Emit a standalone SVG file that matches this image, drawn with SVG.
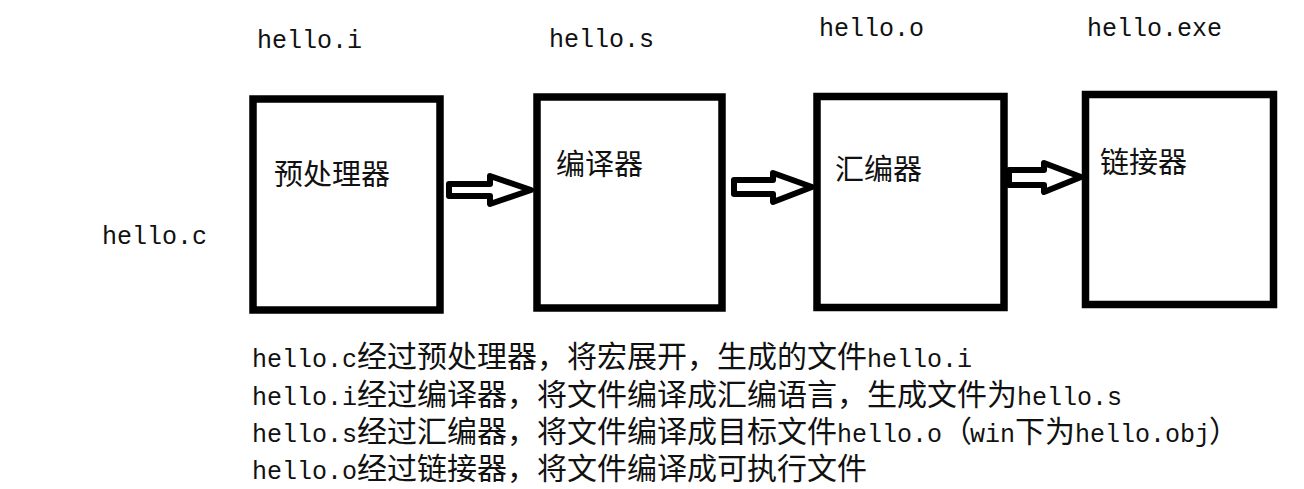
<svg xmlns="http://www.w3.org/2000/svg" width="1304" height="489" viewBox="0 0 1304 489">
<style>
.box{fill:#fff;stroke:#000;stroke-width:7.5}
.arr{fill:#fff;stroke:#000;stroke-width:6;stroke-linejoin:round}
.lat{font-family:"Liberation Mono",monospace;font-size:25px;fill:#111}
.cjk{font-family:"Noto Sans CJK SC",sans-serif;font-size:30px;fill:#111}
.lbl{font-family:"Noto Sans CJK SC",sans-serif;font-size:29px;fill:#111}
</style>
<rect width="1304" height="489" fill="#fff"/>
<g id="connectors">
<polygon class="arr" points="449,184 490,184 490,176 531,190 490,204 490,196 449,196"/>
<polygon class="arr" points="734,180 773,180 773,173 812,187 773,202 773,194 734,194"/>
<polygon class="arr" points="1009,170 1044,170 1044,163 1081,177 1044,192 1044,185 1009,185"/>
</g>
<g id="node-preprocessor">
<rect class="box" x="253" y="99" width="187" height="211"/>
<text class="lbl" x="274" y="185">预处理器</text>
</g>
<g id="node-compiler">
<rect class="box" x="537" y="97" width="185" height="211"/>
<text class="lbl" x="556" y="175">编译器</text>
</g>
<g id="node-assembler">
<rect class="box" x="817" y="96.5" width="187" height="211"/>
<text class="lbl" x="835" y="180">汇编器</text>
</g>
<g id="node-linker">
<rect class="box" x="1085.5" y="94.5" width="188" height="210"/>
<text class="lbl" x="1100" y="173">链接器</text>
</g>
<g id="file-labels">
<text class="lat" x="102" y="244">hello.c</text>
<text class="lat" x="257" y="48">hello.i</text>
<text class="lat" x="549" y="47">hello.s</text>
<text class="lat" x="819" y="36">hello.o</text>
<text class="lat" x="1087" y="36">hello.exe</text>
</g>
<g id="notes">
<text x="252" y="367"><tspan class="lat">hello.c</tspan><tspan class="cjk">经过预处理器，将宏展开，生成的文件</tspan><tspan class="lat">hello.i</tspan></text>
<text x="252" y="405"><tspan class="lat">hello.i</tspan><tspan class="cjk">经过编译器，将文件编译成汇编语言，生成文件为</tspan><tspan class="lat">hello.s</tspan></text>
<text x="252" y="442"><tspan class="lat">hello.s</tspan><tspan class="cjk">经过汇编器，将文件编译成目标文件</tspan><tspan class="lat">hello.o</tspan><tspan class="cjk">（</tspan><tspan class="lat" dx="-2">win</tspan><tspan class="cjk">下为</tspan><tspan class="lat">hello.obj</tspan><tspan class="cjk" dx="-1">）</tspan></text>
<text x="252" y="479"><tspan class="lat">hello.o</tspan><tspan class="cjk">经过链接器，将文件编译成可执行文件</tspan></text>
</g>
</svg>
